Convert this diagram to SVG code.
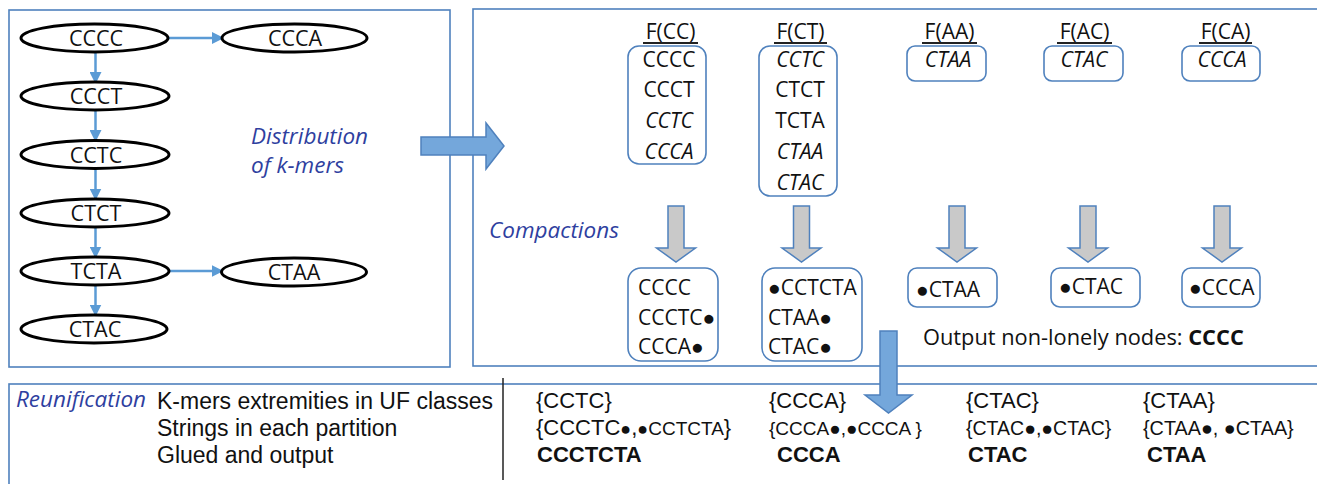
<svg xmlns="http://www.w3.org/2000/svg" width="1317" height="484" viewBox="0 0 1317 484">
<style>
.frame{fill:none;stroke:#4F81BD;stroke-width:1.6}
.node{fill:#fff;stroke:#000;stroke-width:3}
.ntxt{font-family:"Open Sans",sans-serif;font-size:21.5px;fill:#111;text-anchor:middle}
.t{font-family:"Open Sans",sans-serif;font-size:21px;fill:#111}
.tm{font-family:"Open Sans",sans-serif;font-size:21px;fill:#111;text-anchor:middle}
.it{font-style:italic}
.lab{font-family:"Open Sans",sans-serif;font-style:italic;font-size:22.5px;fill:#2F3F9F}
.box{fill:#fff;stroke:#4F81BD;stroke-width:1.6}
.conn{stroke:#5B9BD5;stroke-width:2.5;fill:none}
.bigarrow{fill:#74A7DB;stroke:#4F81BD;stroke-width:1.5}
.grayarrow{fill:#C9C9C9;stroke:#4F81BD;stroke-width:1.5}
.ul{stroke:#222;stroke-width:2}
.a{font-family:"Liberation Sans",Arial,sans-serif;font-size:22px;fill:#111}
.al{font-family:"Liberation Sans",Arial,sans-serif;font-size:23px;fill:#111}
.ab{font-family:"Liberation Sans",Arial,sans-serif;font-size:22px;font-weight:bold;fill:#111}
.as{font-family:"Liberation Sans",Arial,sans-serif;font-size:19px;fill:#111}
</style>
<defs>
<marker id="ah" markerUnits="userSpaceOnUse" markerWidth="12" markerHeight="12" viewBox="0 0 12 12" refX="11" refY="6" orient="auto">
<path d="M0,0 L12,6 L0,12 Z" fill="#5B9BD5"/>
</marker>
</defs>

<!-- frames -->
<rect class="frame" x="9" y="10" width="441" height="357"/>
<rect class="frame" x="473" y="9" width="870" height="357"/>
<rect class="frame" x="9" y="384" width="1330" height="130"/>
<line x1="503" y1="378" x2="503" y2="480" stroke="#222" stroke-width="1.5"/>

<!-- connectors -->
<g id="connectors">
<line class="conn" x1="95.5" y1="52" x2="95.5" y2="83" marker-end="url(#ah)"/>
<line class="conn" x1="95.5" y1="110" x2="95.5" y2="141" marker-end="url(#ah)"/>
<line class="conn" x1="95.5" y1="168.5" x2="95.5" y2="199.5" marker-end="url(#ah)"/>
<line class="conn" x1="95.5" y1="227" x2="95.5" y2="257.5" marker-end="url(#ah)"/>
<line class="conn" x1="95.5" y1="285" x2="95.5" y2="315.5" marker-end="url(#ah)"/>
<line class="conn" x1="168" y1="38" x2="223" y2="38" marker-end="url(#ah)"/>
<line class="conn" x1="168" y1="271" x2="222.5" y2="271" marker-end="url(#ah)"/>
</g>

<!-- k-mer graph nodes -->
<g id="n-CCCC"><ellipse class="node" cx="94.5" cy="38" rx="73.5" ry="14"/><text class="ntxt" x="96" y="46">CCCC</text></g>
<g id="n-CCCA"><ellipse class="node" cx="294.5" cy="38" rx="72.5" ry="14"/><text class="ntxt" x="295" y="46">CCCA</text></g>
<g id="n-CCCT"><ellipse class="node" cx="95" cy="96" rx="74" ry="14"/><text class="ntxt" x="96" y="104">CCCT</text></g>
<g id="n-CCTC"><ellipse class="node" cx="95" cy="154.5" rx="74" ry="14"/><text class="ntxt" x="96" y="162.5">CCTC</text></g>
<g id="n-CTCT"><ellipse class="node" cx="95" cy="213" rx="74" ry="14"/><text class="ntxt" x="96" y="221">CTCT</text></g>
<g id="n-TCTA"><ellipse class="node" cx="95" cy="271" rx="74" ry="14"/><text class="ntxt" x="96" y="279">TCTA</text></g>
<g id="n-CTAA"><ellipse class="node" cx="294" cy="272" rx="72.5" ry="14"/><text class="ntxt" x="294" y="280">CTAA</text></g>
<g id="n-CTAC"><ellipse class="node" cx="94" cy="329" rx="73" ry="14"/><text class="ntxt" x="95" y="337">CTAC</text></g>

<text class="lab" x="251" y="144">Distribution</text>
<text class="lab" x="251" y="173">of k-mers</text>

<!-- big arrow -->
<polygon class="bigarrow" points="421,137 486,137 486,123 504,146 486,169 486,155 421,155"/>

<!-- partitions -->
<g id="p-CC">
<text class="tm" x="670.5" y="39">F(CC)</text><line class="ul" x1="643" y1="43" x2="698" y2="43"/>
<rect class="box" x="628" y="46" width="78" height="118" rx="11"/>
<text class="tm" x="669" y="67">CCCC</text>
<text class="tm" x="669" y="97">CCCT</text>
<text class="tm it" x="669" y="128">CCTC</text>
<text class="tm it" x="669" y="159">CCCA</text>
</g>
<g id="p-CT">
<text class="tm" x="800.5" y="39">F(CT)</text><line class="ul" x1="774" y1="43" x2="827" y2="43"/>
<rect class="box" x="759" y="46" width="78" height="150" rx="11"/>
<text class="tm it" x="800" y="67">CCTC</text>
<text class="tm" x="800" y="97">CTCT</text>
<text class="tm" x="800" y="128">TCTA</text>
<text class="tm it" x="800" y="159">CTAA</text>
<text class="tm it" x="800" y="190">CTAC</text>
</g>
<g id="p-AA">
<text class="tm" x="949.5" y="39">F(AA)</text><line class="ul" x1="922" y1="43" x2="977" y2="43"/>
<rect class="box" x="907" y="46" width="79" height="35" rx="8"/>
<text class="tm it" x="948" y="67">CTAA</text>
</g>
<g id="p-AC">
<text class="tm" x="1084.5" y="39">F(AC)</text><line class="ul" x1="1057" y1="43" x2="1112" y2="43"/>
<rect class="box" x="1044" y="46" width="79" height="35" rx="8"/>
<text class="tm it" x="1084" y="67">CTAC</text>
</g>
<g id="p-CA">
<text class="tm" x="1225.5" y="39">F(CA)</text><line class="ul" x1="1199" y1="43" x2="1252" y2="43"/>
<rect class="box" x="1182" y="46" width="78" height="35" rx="8"/>
<text class="tm it" x="1222" y="67">CCCA</text>
</g>

<!-- gray arrows -->
<g id="gray-arrows">
<polygon class="grayarrow" points="668,206 684,206 684,248 695.5,248 676,262 656.5,248 668,248"/>
<polygon class="grayarrow" points="793.5,206 809.5,206 809.5,248 821,248 801.5,262 782,248 793.5,248"/>
<polygon class="grayarrow" points="949,206 965,206 965,248 976.5,248 957,262 937.5,248 949,248"/>
<polygon class="grayarrow" points="1080,206 1096,206 1096,248 1107.5,248 1088,262 1068.5,248 1080,248"/>
<polygon class="grayarrow" points="1214,206 1230,206 1230,248 1241.5,248 1222,262 1202.5,248 1214,248"/>
</g>

<text class="lab" x="489" y="238">Compactions</text>

<!-- compaction results -->
<g id="c-CC">
<rect class="box" x="628" y="268" width="90" height="93" rx="13"/>
<text class="t" x="638" y="295">CCCC</text>
<text class="t" x="638" y="325">CCCTC●</text>
<text class="t" x="638" y="354">CCCA●</text>
</g>
<g id="c-CT">
<rect class="box" x="762" y="268" width="100" height="93" rx="13"/>
<text class="t" x="768" y="295">●CCTCTA</text>
<text class="t" x="768" y="325">CTAA●</text>
<text class="t" x="768" y="354">CTAC●</text>
</g>
<g id="c-AA">
<rect class="box" x="908" y="268" width="89" height="39" rx="9"/>
<text class="t" x="916" y="297">●CTAA</text>
</g>
<g id="c-AC">
<rect class="box" x="1051" y="268" width="89" height="39" rx="9"/>
<text class="t" x="1059" y="294">●CTAC</text>
</g>
<g id="c-CA">
<rect class="box" x="1182" y="268" width="78" height="39" rx="9"/>
<text class="t" x="1189" y="295">●CCCA</text>
</g>

<text class="t" x="923" y="345" style="font-size:21.8px">Output non-lonely nodes: <tspan font-weight="bold">CCCC</tspan></text>

<!-- blue down arrow -->
<polygon class="bigarrow" points="880,331 897,331 897,395 912,395 888.5,413 865,395 880,395"/>

<!-- reunification -->
<text class="lab" x="16" y="407">Reunification</text>
<text class="al" x="157" y="409">K-mers extremities in UF classes</text>
<text class="al" x="157" y="436">Strings in each partition</text>
<text class="al" x="157" y="463">Glued and output</text>

<text class="a" x="536" y="408">{CCTC}</text>
<text class="a" x="536" y="435">{CCCTC<tspan style="font-size:18px">●</tspan>,<tspan style="font-size:18px">●</tspan><tspan style="font-size:19px">CCTCTA</tspan>}</text>
<text class="ab" x="537" y="462">CCCTCTA</text>

<text class="a" x="769" y="408">{CCCA}</text>
<text class="as" x="769" y="435">{CCCA●,●CCCA }</text>
<text class="ab" x="777" y="462">CCCA</text>

<text class="a" x="966" y="408">{CTAC}</text>
<text class="as" x="966" y="435" style="font-size:19.5px">{CTAC●,●CTAC}</text>
<text class="ab" x="968" y="462">CTAC</text>

<text class="a" x="1143" y="408">{CTAA}</text>
<text class="as" x="1143" y="435" style="font-size:19.8px">{CTAA●, ●CTAA}</text>
<text class="ab" x="1147" y="462">CTAA</text>
</svg>
